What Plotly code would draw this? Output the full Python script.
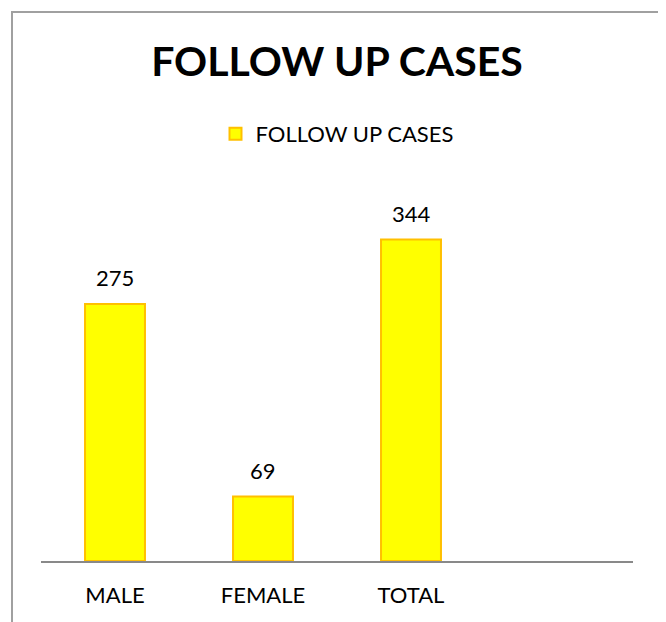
import plotly.graph_objects as go

categories = ["MALE", "FEMALE", "TOTAL"]
cases = [275, 69, 344]
series_name = "FOLLOW UP CASES"
chart_title = "FOLLOW UP CASES"

W, H = 666, 622
OFF = 8  # page body margin of the html
ml, mr, mt, mb = 41 - OFF, 666 - 633 + OFF, 100, 622 - 561 + OFF
plot_h = H - mt - mb
pw = W - ml - mr
ymax = plot_h / 0.9345   # ~0.93 px per case

font = "Lato, 'Open Sans', sans-serif"

fig = go.Figure()
fig.add_trace(go.Bar(
    x=categories, y=cases, name=series_name, width=0.405,
    marker=dict(color="#FFFF00", line=dict(color="#FFC000", width=2)),
    showlegend=True,
))

# value labels above bars
for c, v in zip(categories, cases):
    fig.add_annotation(x=c, y=v, text=str(v), showarrow=False,
                       yanchor="bottom", yshift=11,
                       font=dict(size=22, color="#000000", family=font))

# outer chart border (bottom edge runs off the page)
top_px = 12 - OFF
fig.add_shape(type="rect", xref="paper", yref="paper",
              x0=(12 - OFF - ml) / pw, x1=(662 - OFF - ml) / pw,
              y0=-(mb + 30) / plot_h, y1=(H - mb - top_px) / plot_h,
              line=dict(color="#A0A0A0", width=2), fillcolor="rgba(0,0,0,0)")

fig.update_layout(
    width=W, height=H,
    margin=dict(l=ml, r=mr, t=mt, b=mb, autoexpand=False),
    paper_bgcolor="white", plot_bgcolor="white",
    font=dict(family=font, color="#000000"),
    title=dict(text="<b>" + chart_title + "</b>", x=(337 - OFF) / W, xanchor="center",
               y=1 - (62 - OFF) / H, yanchor="middle", yref="container",
               font=dict(size=41, family=font, color="#000000")),
    legend=dict(orientation="h", x=(337 - OFF) / W, xanchor="center", xref="container",
                y=1 - (134 - OFF) / H, yanchor="middle", yref="container",
                font=dict(size=22, family=font, color="#000000"),
                itemclick=False),
    showlegend=True,
)
fig.update_xaxes(range=[-0.5, 3.5], showline=True, linecolor="#898989", linewidth=2,
                 showgrid=False, ticks="outside", ticklen=14, tickcolor="rgba(0,0,0,0)",
                 tickfont=dict(size=22, family=font, color="#000000"))
fig.update_yaxes(range=[0, ymax], visible=False, showgrid=False)

fig.write_html("out.html")
